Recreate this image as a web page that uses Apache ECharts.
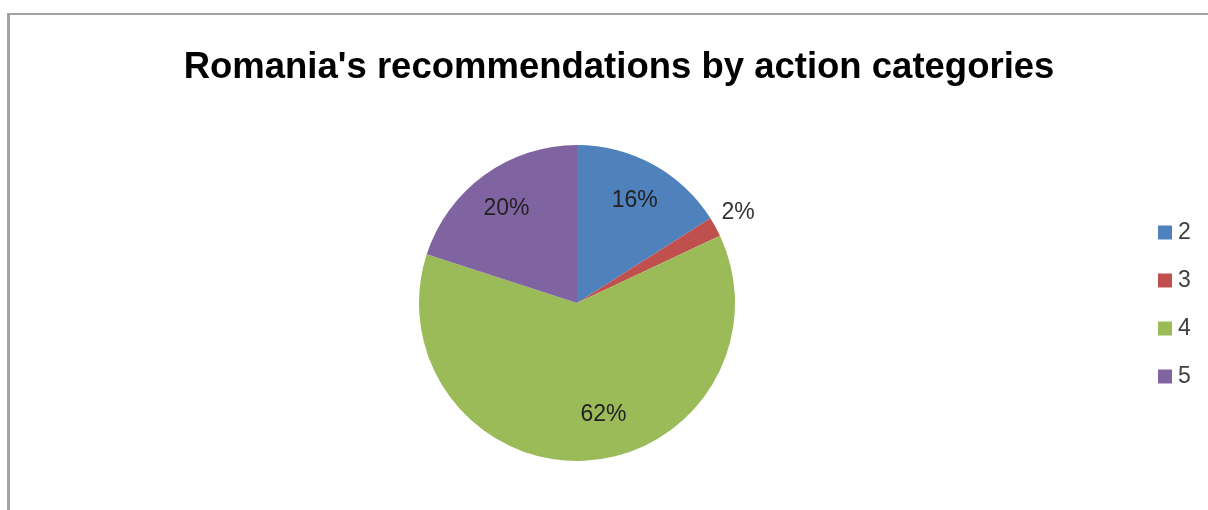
<!DOCTYPE html>
<html>
<head>
<meta charset="utf-8">
<script src="https://cdn.jsdelivr.net/npm/echarts@6/dist/echarts.min.js"></script>
<style>
html,body{margin:0;padding:0;background:#fff;}
#chart{width:1208px;height:510px;}
</style>
</head>
<body>
<div id="chart"></div>
<script>
const titleText = "Romania's recommendations by action categories";
const categories = ['2', '3', '4', '5'];
const values = [16, 2, 62, 20];
const colors = ['#4F81BD', '#C0504D', '#9BBB59', '#8064A2'];

const chart = echarts.init(document.getElementById('chart'), null, {renderer: 'canvas'});

const FONT = '"Liberation Sans", Arial, sans-serif';
const center = [577, 303];
const R = 158;

const mainData = categories.map((c, i) => ({
  name: c, value: values[i], itemStyle: {color: colors[i]}
}));

const labelOverrides = {
  1: {position: 'outside', offset: [-6, -10]},
  2: {offset: [19, -8]}
};

const labelData = categories.map((c, i) => {
  const item = {name: c, value: values[i]};
  if (labelOverrides[i]) {
    item.label = labelOverrides[i];
    if (labelOverrides[i].position === 'outside') {
      item.labelLine = {show: false, length: 8, length2: 0};
      item.label = Object.assign({color: '#333'}, labelOverrides[i]);
    }
  }
  return item;
});

chart.setOption({
  animation: false,
  color: colors,
  title: {
    text: titleText,
    left: 614,
    textAlign: 'center',
    top: 44,
    textStyle: {fontFamily: FONT, fontWeight: 'bold', fontSize: 36.5, color: '#000'}
  },
  legend: {
    orient: 'vertical',
    left: 1153,
    top: 216,
    itemWidth: 14,
    itemHeight: 14,
    itemGap: 25,
    icon: 'rect',
    data: categories,
    textStyle: {fontFamily: FONT, fontSize: 23, color: '#404040', padding: [0, 0, 0, 1]}
  },
  graphic: [
    {type: 'line', shape: {x1: 8.5, y1: 14, x2: 1208, y2: 14}, style: {stroke: '#a3a3a3', lineWidth: 2}, silent: true},
    {type: 'line', shape: {x1: 8.5, y1: 13, x2: 8.5, y2: 510}, style: {stroke: '#a3a3a3', lineWidth: 3}, silent: true}
  ],
  series: [
    {
      type: 'pie',
      center: center,
      radius: R,
      startAngle: 90,
      clockwise: true,
      silent: true,
      label: {show: false},
      labelLine: {show: false},
      itemStyle: {borderWidth: 0},
      data: mainData
    },
    {
      type: 'pie',
      center: center,
      radius: [R * 0.48, R],
      startAngle: 90,
      clockwise: true,
      silent: true,
      itemStyle: {color: 'rgba(0,0,0,0)', borderWidth: 0},
      label: {
        show: true,
        position: 'inside',
        formatter: '{d}%',
        fontFamily: FONT,
        fontSize: 23,
        color: '#222',
        offset: [0, 3]
      },
      labelLine: {show: false},
      data: labelData
    }
  ]
});
</script>
</body>
</html>
